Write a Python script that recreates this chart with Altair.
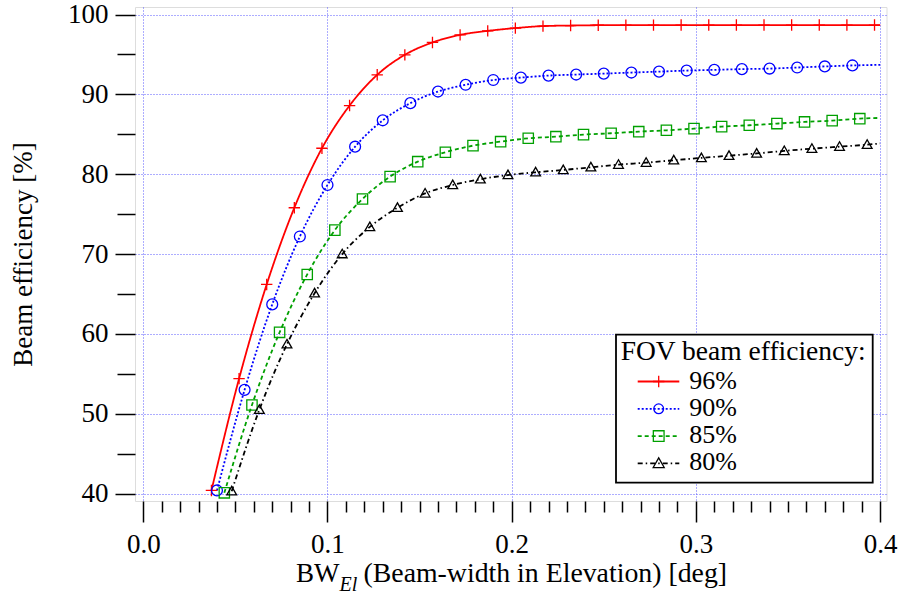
import altair as alt
import pandas as pd

FONT = "Liberation Serif"

series = ["96%", "90%", "85%", "80%"]
colors = ["#ff0000", "#0000ff", "#00a000", "#000000"]
dashes = [[1, 0], [2, 2], [4, 3], [5, 3, 1.5, 3]]

# marker positions (deg) and beam efficiency (%)
x_96 = [0.037, 0.052, 0.067, 0.082, 0.097, 0.112, 0.127, 0.142, 0.157, 0.172, 0.187, 0.202, 0.217,
        0.232, 0.247, 0.262, 0.277, 0.292, 0.307, 0.322, 0.337, 0.352, 0.367, 0.382, 0.397]
y_96 = [40.4, 54.4, 66.2, 75.8, 83.25, 88.6, 92.45, 94.95, 96.5, 97.45, 97.95, 98.3, 98.55,
        98.62, 98.66, 98.67, 98.67, 98.68, 98.68, 98.68, 98.68, 98.68, 98.68, 98.68, 98.68]
x_90 = [0.040, 0.055, 0.070, 0.085, 0.100, 0.115, 0.130, 0.145, 0.160, 0.175, 0.190, 0.205,
        0.220, 0.235, 0.250, 0.265, 0.280, 0.295, 0.310, 0.325, 0.340, 0.355, 0.370, 0.385]
y_90 = [40.4, 53.0, 63.7, 72.2, 78.65, 83.45, 86.75, 88.9, 90.35, 91.2, 91.8, 92.1,
        92.35, 92.48, 92.6, 92.73, 92.85, 92.98, 93.07, 93.16, 93.23, 93.36, 93.5, 93.62]
x_85 = [0.044, 0.059, 0.074, 0.089, 0.104, 0.119, 0.134, 0.149, 0.164, 0.179, 0.194, 0.209,
        0.224, 0.239, 0.254, 0.269, 0.284, 0.299, 0.314, 0.329, 0.344, 0.359, 0.374, 0.389]
y_85 = [40.1, 51.1, 60.2, 67.45, 73.0, 76.9, 79.7, 81.57, 82.75, 83.58, 84.08, 84.5,
        84.7, 84.96, 85.13, 85.33, 85.5, 85.71, 85.96, 86.13, 86.34, 86.55, 86.71, 86.96]
x_80 = [0.048, 0.063, 0.078, 0.093, 0.108, 0.123, 0.138, 0.153, 0.168, 0.183, 0.198, 0.213,
        0.228, 0.243, 0.258, 0.273, 0.288, 0.303, 0.318, 0.333, 0.348, 0.363, 0.378, 0.393]
y_80 = [40.3, 50.5, 58.7, 65.1, 70.0, 73.4, 75.8, 77.6, 78.65, 79.37, 79.9, 80.24,
        80.53, 80.87, 81.2, 81.45, 81.75, 82.04, 82.32, 82.6, 82.92, 83.2, 83.45, 83.7]
# curve values at the right end (0.4 deg)
x_end = 0.4
y_end = [98.68, 93.7, 87.05, 83.85]

x_ticks = [0.0, 0.1, 0.2, 0.3, 0.4]
x_minor = [0.01, 0.02, 0.03, 0.04, 0.05, 0.06, 0.07, 0.08, 0.09, 0.11, 0.12, 0.13, 0.14, 0.15,
           0.16, 0.17, 0.18, 0.19, 0.21, 0.22, 0.23, 0.24, 0.25, 0.26, 0.27, 0.28, 0.29, 0.31,
           0.32, 0.33, 0.34, 0.35, 0.36, 0.37, 0.38, 0.39]
y_ticks = [40, 50, 60, 70, 80, 90, 100]
y_minor = [45, 55, 65, 75, 85, 95]

xs_all = [x_96, x_90, x_85, x_80]
ys_all = [y_96, y_90, y_85, y_80]

pts_rows, line_rows = [], []
for s, xs, ys, ye in zip(series, xs_all, ys_all, y_end):
    for xv, yv in zip(xs, ys):
        pts_rows.append({"series": s, "x": xv, "y": yv})
        line_rows.append({"series": s, "x": xv, "y": yv})
    line_rows.append({"series": s, "x": x_end, "y": ye})
pts = pd.DataFrame(pts_rows)
lines_df = pd.DataFrame(line_rows)

plus_path = "M-1,0L1,0M0,-1L0,1"
tri_path = "M0,-1L1,0.75L-1,0.75Z"
shapes = [plus_path, "circle", "square", tri_path]
sizes = [130, 95, 115, 121]

xscale = alt.Scale(domain=[-0.0045, 0.4035], nice=False, zero=False)
yscale = alt.Scale(domain=[39.08, 100.94], nice=False, zero=False)

GRID = "#5a5aff"

x_major = alt.Axis(values=x_ticks, format=".1f", title=None, orient="bottom", grid=True,
                   gridColor=GRID, gridDash=[1, 2], gridWidth=1, gridOpacity=1,
                   domain=False, tickSize=21, tickWidth=1.5, tickColor="black",
                   labelFont=FONT, labelFontSize=27, labelColor="black",
                   labelBaseline="alphabetic", labelPadding=30, labelFlush=False,
                   labelOverlap=False, labelBound=False)
y_major = alt.Axis(values=y_ticks, title="Beam efficiency [%]", orient="left", grid=True,
                   gridColor=GRID, gridDash=[1, 2], gridWidth=1, gridOpacity=1,
                   domain=False, tickSize=20, tickWidth=1.5, tickColor="black",
                   labelFont=FONT, labelFontSize=27, labelColor="black", labelPadding=7,
                   labelFlush=False, labelOverlap=False, labelBound=False,
                   titleFont=FONT, titleFontSize=27, titleFontWeight="normal",
                   titleColor="black", titleAngle=270, titleX=-104, titleY=247,
                   titleBaseline="alphabetic", titleAlign="center")
x_min_ax = alt.Axis(values=x_minor, title=None, orient="bottom", grid=False, domain=False,
                    labels=False, tickSize=11, tickWidth=1.5, tickColor="black")
y_min_ax = alt.Axis(values=y_minor, title=None, orient="left", grid=False, domain=False,
                    labels=False, tickSize=18, tickWidth=1.5, tickColor="black")

color_enc = alt.Color("series:N", scale=alt.Scale(domain=series, range=colors), legend=None)
dash_enc = alt.StrokeDash("series:N", scale=alt.Scale(domain=series, range=dashes), legend=None)

lines = alt.Chart(lines_df).mark_line(strokeWidth=1.8, interpolate="monotone").encode(
    x=alt.X("x:Q", scale=xscale, axis=x_major),
    y=alt.Y("y:Q", scale=yscale, axis=y_major),
    color=color_enc,
    strokeDash=dash_enc,
    detail="series:N",
)

points = alt.Chart(pts).mark_point(filled=False, strokeWidth=1.3, opacity=1).encode(
    x=alt.X("x:Q", scale=xscale, axis=x_major),
    y=alt.Y("y:Q", scale=yscale, axis=y_major),
    color=color_enc,
    shape=alt.Shape("series:N", scale=alt.Scale(domain=series, range=shapes), legend=None),
    size=alt.Size("series:N", scale=alt.Scale(domain=series, range=sizes), legend=None),
)

one = pd.DataFrame({"a": [0]})


def txt(text, x, y, size=27, style="normal", align="left"):
    return alt.Chart(one).mark_text(text=text, font=FONT, fontSize=size, fontStyle=style,
                                    align=align, baseline="alphabetic", color="black").encode(
        x=alt.value(x), y=alt.value(y))


# x-axis title with subscript (plot origin at 135, 7)
xt1 = txt("BW", 161, 574.7)
xt2 = txt("El", 204.5, 584, size=20, style="italic")
xt3 = txt("(Beam-width in Elevation) [deg]", 228.5, 574.7, size=27.8)

# legend box
leg_box = alt.Chart(one).mark_rect(fill="white", stroke="black", strokeWidth=1.8).encode(
    x=alt.value(481), x2=alt.value(737.7), y=alt.value(327.7), y2=alt.value(475.7))
leg_title = txt("FOV beam efficiency:", 485.7, 352.5, size=27.5)

leg_layers = [leg_box, leg_title]
for i, s in enumerate(series):
    cy = 374.5 + 27.3 * i
    ty = 381.5 + 27.3 * i
    leg_layers.append(alt.Chart(one).mark_rule(strokeWidth=1.8, color=colors[i],
                                               strokeDash=dashes[i]).encode(
        x=alt.value(502.7), x2=alt.value(544.3), y=alt.value(cy)))
    leg_layers.append(alt.Chart(one).mark_point(filled=False, strokeWidth=1.3, color=colors[i],
                                                shape=shapes[i], size=sizes[i], opacity=1).encode(
        x=alt.value(523.7), y=alt.value(cy)))
    leg_layers.append(txt(s, 554.3, ty, size=26))

main = alt.layer(lines, points, xt1, xt2, xt3, *leg_layers)

minor = alt.Chart(pts).mark_point(opacity=0).encode(
    x=alt.X("x:Q", scale=xscale, axis=x_min_ax),
    y=alt.Y("y:Q", scale=yscale, axis=y_min_ax),
)

chart = alt.layer(main, minor).resolve_axis(x="independent", y="independent").properties(
    width=751.5, height=494,
    padding={"left": 135, "top": 7, "right": 13.5, "bottom": 96},
    autosize=alt.AutoSizeParams(type="none"),
).configure_view(stroke="black", strokeWidth=2).configure(background="white")

chart.save("out.html", embed_options={"renderer": "svg", "actions": False})
